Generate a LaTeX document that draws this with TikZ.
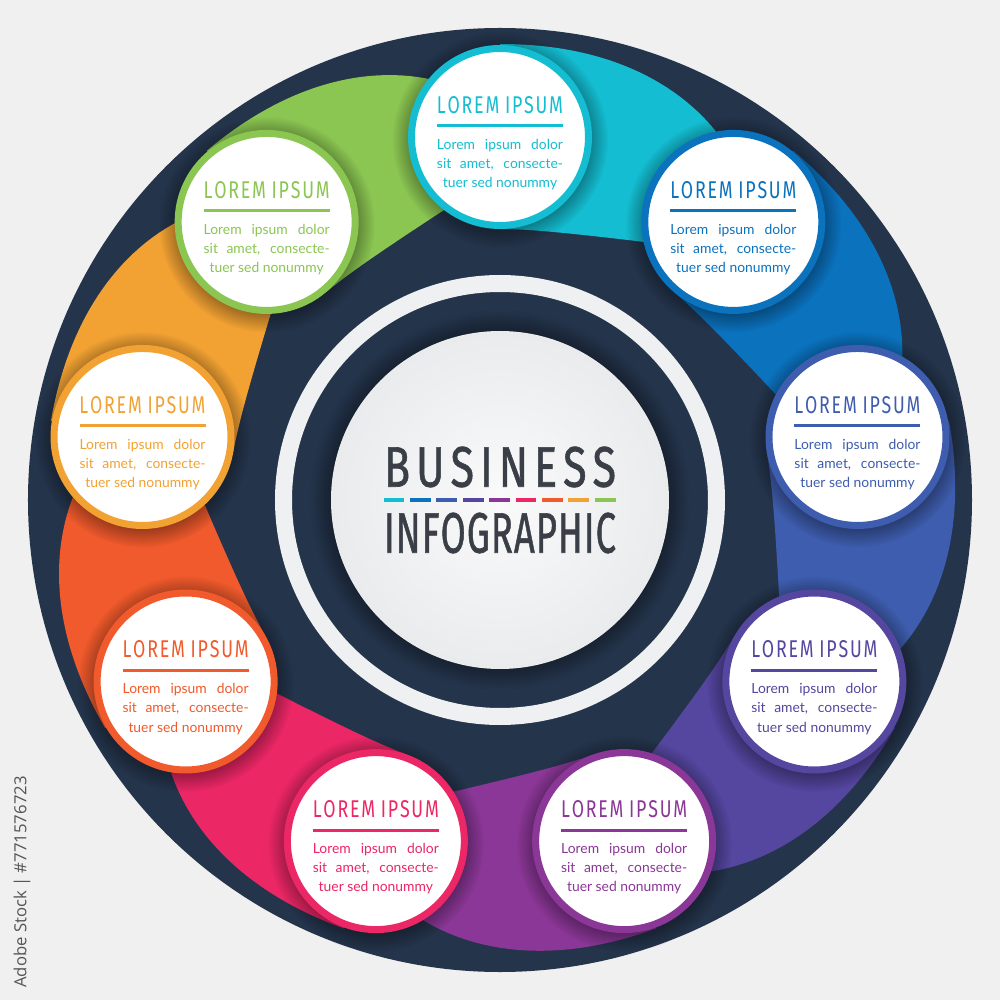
\documentclass[tikz,border=0pt]{standalone}
\usepackage{fontspec}
\usepackage{graphicx}
\usetikzlibrary{calc,fadings,shadows.blur}
\setmainfont{Lato}
\newfontfamily\headfont{Fira Sans}
\newfontfamily\hubfont{Fira Sans}[FakeBold=1.2]
\newfontfamily\sidefont{Open Sans}
\definecolor{bgGray}{HTML}{F0F0F0}
\definecolor{navy}{HTML}{24344B}
\definecolor{inkGray}{HTML}{3A3F47}
\definecolor{ringWhite}{HTML}{EEF0F2}
\definecolor{hubGray}{HTML}{EAEBED}
\definecolor{sideGray}{HTML}{555555}
\definecolor{stA}{HTML}{14BDD1}
\definecolor{stB}{HTML}{0B72BE}
\definecolor{stC}{HTML}{3E5DAE}
\definecolor{stD}{HTML}{5546A0}
\definecolor{stE}{HTML}{8B3797}
\definecolor{stF}{HTML}{EC2766}
\definecolor{stG}{HTML}{F05A2C}
\definecolor{stH}{HTML}{F2A233}
\definecolor{stI}{HTML}{8BC652}
\newcommand{\steptitle}{L\kern.1em O\kern.1em R\kern.1em E\kern.1em M\hspace{.32em}%
  I\kern.1em P\kern.1em S\kern.1em U\kern.1em M}
\newcommand{\loremlines}{\makebox[25.2mm][s]{Lorem ipsum dolor}\\
  \makebox[25.2mm][s]{sit amet, consecte-}\\ tuer sed nonummy}

\begin{document}
\begin{tikzpicture}[x=0.2mm, y=0.2mm,
    info disc/.style={circle, fill=white, line width=1.4mm, minimum size=35.4mm,
      inner sep=0pt},
    disc shadow/.style={black, opacity=0.38, path fading=circle with fuzzy edge 20 percent},
    disc title/.style={inner sep=0pt},
    title rule/.style={inner sep=0pt, minimum width=25.2mm, minimum height=0.6mm},
    disc body/.style={inner sep=0pt, align=center, font=\fontsize{7.9}{11}\selectfont},
    hub disc/.style={circle, minimum size=67.6mm, inner sep=0pt, inner color=white!75!hubGray,
      outer color=hubGray, blur shadow={shadow xshift=0mm, shadow yshift=0mm,
      shadow blur radius=4mm, shadow blur steps=24, shadow opacity=70}},
    dash bar/.style={inner sep=0pt, minimum width=4.14mm, minimum height=0.9mm}]
  \useasboundingbox (-500,-500) rectangle (500,500);
  \fill[bgGray] (-500,-500) rectangle (500,500);

  % dark wheel and the white ring round the hub
  \fill[navy] (0,0) circle[radius=472];
  \draw[ringWhite, line width=3.4mm] (0,0) circle[radius=216.5];

  % one swept band per step, tucked under the next disc
  \foreach \c [count=\k from 0] in {stA,stB,stC,stD,stE,stF,stG,stH,stI} {
    \pgfmathsetmacro\a{90-40*\k}
    \fill[\c] plot[domain=0:40, samples=41] ({\a-\x}:{456-66*(\x/40)*(\x/40)*(\x/40)})
      -- plot[domain=40:0, samples=41]
        ({\a-\x}:{271+54*(\x/40)*(\x/40)*sqrt(\x/40)}) -- cycle;
  }

  % soft shadows under the discs
  \foreach \k in {0,...,8} {
    \coordinate (spot\k) at ({90-40*\k}:363);
    \fill[disc shadow] ([yshift=-0.5mm]spot\k) circle[radius=108];
  }

  % the nine discs with their texts
  \foreach \c [count=\k from 0] in {stA,stB,stC,stD,stE,stF,stG,stH,stI} {
    \node[info disc, draw=\c] (disc\k) at (spot\k) {};
    \node[disc title, text=\c] (title\k) at ([yshift=6.4mm]disc\k.center)
      {\resizebox{25.2mm}{3.4mm}{\headfont\steptitle}};
    \node[title rule, fill=\c] (rule\k) at ([yshift=2.2mm]disc\k.center) {};
    \node[disc body, text=\c] (body\k) at ([yshift=-5.5mm]disc\k.center) {\loremlines};
  }

  % hub
  \node[hub disc] (hub) at (0,0) {};
  \node[inkGray, inner sep=0pt] (bizword) at (0,33)
    {\resizebox{46.4mm}{8mm}{\hubfont B\kern.14em U\kern.14em S\kern.14em I\kern.14em
      N\kern.14em E\kern.14em S\kern.14em S}};
  \foreach \c [count=\k from 0] in {stA,stB,stC,stD,stE,stF,stG,stH,stI}
    \node[dash bar, fill=\c] (dash\k) at ({-106+26.4*\k},0) {};
  \node[inkGray, inner sep=0pt] (infoword) at (0,-33)
    {\resizebox{46.4mm}{8mm}{\hubfont I\kern.03em N\kern.03em F\kern.03em O\kern.03em
      G\kern.03em R\kern.03em A\kern.03em P\kern.03em H\kern.03em I\kern.03em C}};

  \node[rotate=90, text=sideGray, inner sep=0pt,
    font=\sidefont\fontsize{9.5}{11}\selectfont] (stockid) at (-478,-382)
    {Adobe Stock | \#771576723};
\end{tikzpicture}
\end{document}
